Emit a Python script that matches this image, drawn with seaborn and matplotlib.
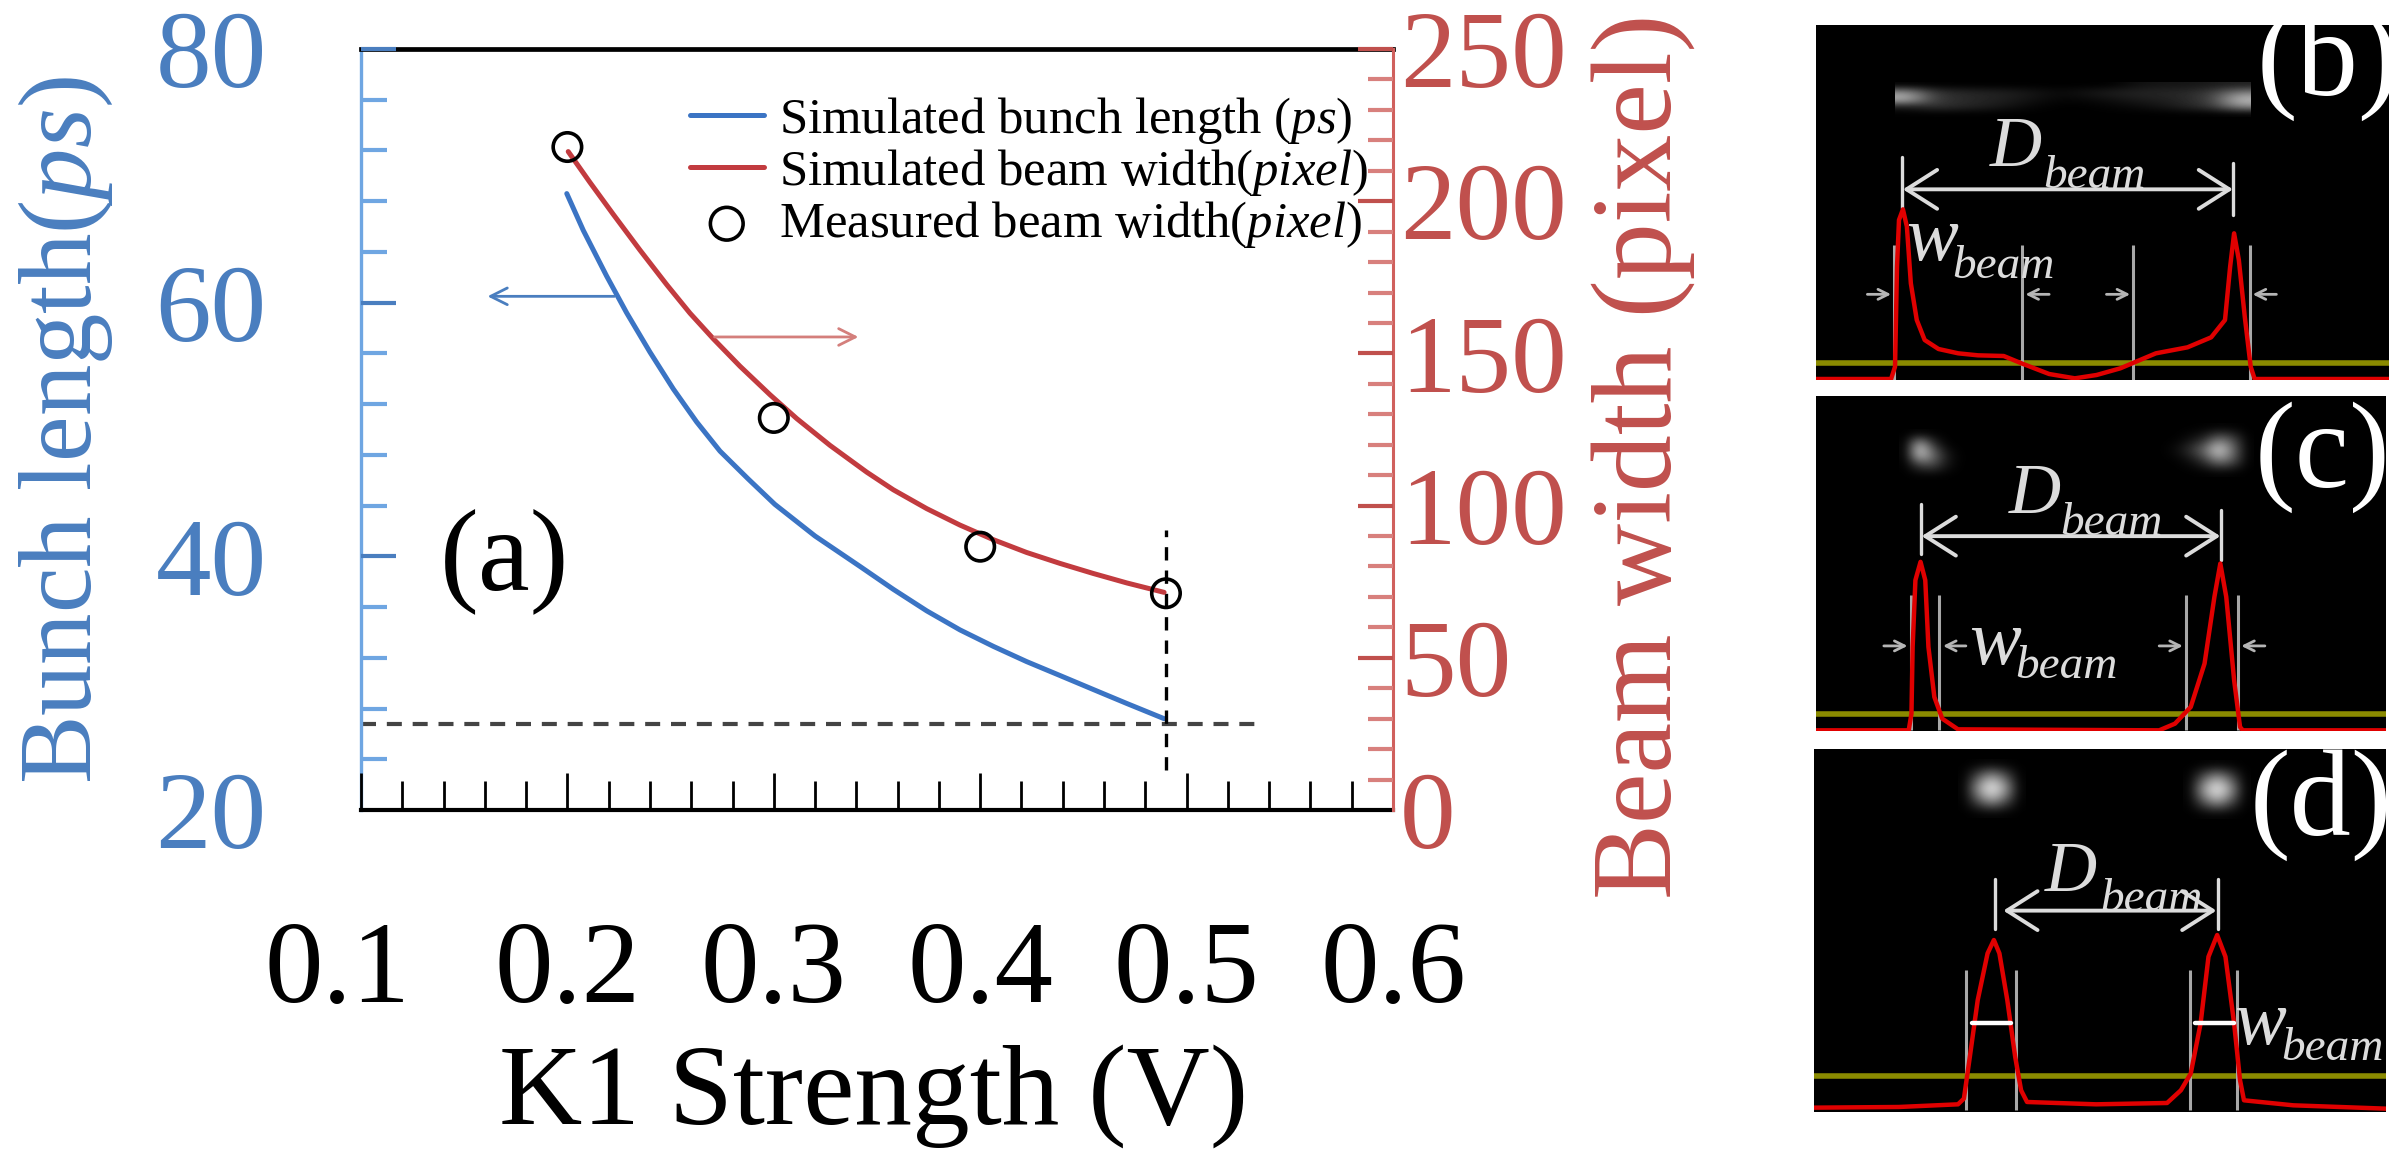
import numpy as np
import seaborn as sns
import matplotlib.pyplot as plt
from matplotlib.transforms import ScaledTranslation

sns.set_theme(style='white')
plt.rcParams['font.family'] = ['Liberation Serif', 'DejaVu Serif']
plt.rcParams['mathtext.fontset'] = 'custom'
plt.rcParams['mathtext.rm'] = 'Liberation Serif'
plt.rcParams['mathtext.it'] = 'Liberation Serif:italic'

# --- main chart values ---
bunch_x = [0.1997, 0.2077, 0.219, 0.2287, 0.240, 0.2513, 0.2626, 0.2739, 0.2876, 0.3005, 0.320, 0.3418, 0.3579,
           0.3741, 0.3902, 0.4064, 0.4225, 0.4387, 0.4548, 0.471, 0.4891]
bunch_len = [68.6, 65.7, 62.1, 59.2, 56.1, 53.2, 50.6, 48.3, 46.1, 44.1, 41.6, 39.2, 37.4,
             35.7, 34.2, 32.9, 31.7, 30.6, 29.5, 28.4, 27.2]
width_x = [0.2004, 0.2109, 0.2222, 0.2352, 0.2481, 0.2594, 0.2707, 0.2836, 0.2982, 0.3111, 0.3272, 0.3450, 0.3579,
           0.3741, 0.3902, 0.4064, 0.4225, 0.4387, 0.4548, 0.471, 0.4891]
width_sim = [216.3, 206.2, 195.7, 183.9, 172.6, 163.2, 154.8, 145.8, 136.4, 128.6, 119.8, 111.0, 105.2,
             99.0, 93.6, 88.8, 84.6, 81.0, 77.7, 74.6, 71.5]
meas_x = [0.2, 0.3, 0.4, 0.49]
meas_width = [217.8, 128.8, 86.5, 71.2]

x_ticks = [0.1, 0.2, 0.3, 0.4, 0.5, 0.6]
left_ticks = [20, 40, 60, 80]
right_ticks = [0, 50, 100, 150, 200, 250]

# --- panel values, in the panels' own pixel units ---
b_x = [90, 280, 290, 295, 300, 310, 320, 330, 345, 365, 400, 450, 500, 565, 610, 680, 745, 800, 860, 900, 950,
       1030, 1090, 1125, 1138, 1148, 1160, 1175, 1190, 1200, 1540]
b_y = [1137, 1137, 1100, 800, 660, 628, 680, 850, 960, 1020, 1047, 1060, 1066, 1068, 1090, 1122, 1135, 1125, 1105,
       1085, 1060, 1042, 1012, 960, 800, 700, 780, 950, 1100, 1137, 1137]
c_x = [90, 325, 332, 335, 342, 355, 367, 375, 390, 410, 450, 960, 1000, 1040, 1075, 1100, 1115, 1130, 1150, 1165,
       1172, 1535]
c_y = [1050, 1050, 1000, 800, 600, 545, 600, 800, 950, 1015, 1047, 1050, 1030, 980, 850, 650, 550, 650, 900, 1040,
       1050, 1050]
d_x = [85, 300, 450, 465, 480, 500, 525, 541, 555, 575, 595, 610, 625, 800, 980, 1015, 1040, 1065, 1085, 1107,
       1128, 1150, 1165, 1175, 1300, 1535]
d_y = [1102, 1100, 1092, 1075, 950, 780, 640, 600, 640, 780, 950, 1050, 1085, 1092, 1088, 1050, 1000, 850, 650,
       585, 650, 850, 1020, 1080, 1095, 1105]

b_spot = [[0, 0, 0, 0, 0, 0, 0, 0, 0, .06, .08, .08, .10, .12],
          [.60, .22, .16, .14, .12, .08, .04, .08, .12, .14, .15, .16, .24, .50],
          [.70, .24, .17, .14, .11, .06, .02, .03, .06, .10, .12, .16, .26, .75],
          [.10, .20, .16, .12, .07, .02, 0, 0, .02, .04, .08, .14, .22, .55],
          [0, 0, 0, 0, 0, 0, 0, 0, 0, 0, 0, 0, 0, 0]]
c_spot_l = [[0, 0, 0, 0, 0],
            [0, .75, .20, 0, 0],
            [0, .85, .45, .10, 0],
            [0, .25, .30, .08, 0],
            [0, 0, 0, 0, 0]]
c_spot_r = [[0, 0, 0, 0, 0, 0, 0],
            [0, 0, .05, .15, .45, .30, 0],
            [0, .05, .20, .45, .90, .45, 0],
            [0, 0, .05, .20, .50, .35, 0],
            [0, 0, 0, 0, 0, 0, 0]]
d_spot = [[0, 0, 0, 0, 0],
          [0, .35, .65, .35, 0],
          [0, .65, 1.0, .65, 0],
          [0, .35, .65, .35, 0],
          [0, 0, 0, 0, 0]]

BLUE = '#4a7ebf'
BLUE_LINE = '#3b74c4'
BLUE_SPINE = '#6fa6e2'
RED = '#c0504d'
RED_LINE = '#c23b3f'
LIGHT = '#dcdcdc'

fig = plt.figure(figsize=(24, 11.51), dpi=100)
ax = fig.add_axes([361 / 2400, 1 - 810 / 1151, 1032 / 2400, 761 / 1151])
ax2 = ax.twinx()

sns.lineplot(x=bunch_x, y=bunch_len, ax=ax, color=BLUE_LINE, lw=3.6, label='Simulated bunch length ($ps$)', legend=False)
sns.lineplot(x=width_x, y=width_sim, ax=ax2, color=RED_LINE, lw=3.6, label='Simulated beam width($pixel$)', legend=False)
sns.scatterplot(x=meas_x, y=meas_width, ax=ax2, s=420, facecolor='none', edgecolor='black', linewidth=2.6,
                label='Measured beam width($pixel$)', legend=False, zorder=4)

# dashed guides
ax.axhline(26.76, xmin=0, xmax=(0.534 - 0.1) / 0.5, color='#444444', lw=3, ls=(0, (3.6, 2.6)))
ax.plot([0.49, 0.49], [23.15, 42.1], color='black', lw=2.4, ls=(0, (4, 3)))

# direction arrows
ax.annotate('', xy=(0.1613, 60.5), xytext=(0.2228, 60.5),
            arrowprops=dict(arrowstyle='->', color=BLUE, lw=2, mutation_scale=30, shrinkA=0, shrinkB=0))
ax2.annotate('', xy=(0.341, 155.4), xytext=(0.2713, 155.4),
             arrowprops=dict(arrowstyle='->', color='#d47f7c', lw=2, mutation_scale=30, shrinkA=0, shrinkB=0))

ax.text(0.1698, 39.6, '(a)', fontsize=84, color='black', ha='center', va='center')

ax.set_xlim(0.1, 0.6)
ax.set_ylim(20, 80)
ax2.set_ylim(0, 250)

ax.set_xticks(x_ticks)
ax.set_xticks(np.arange(0.1, 0.6, 0.02), minor=True)
ax.set_xticklabels([f'{t:.1f}' for t in x_ticks])
ax.set_yticks(left_ticks)
ax.set_yticks(np.arange(20, 81, 4), minor=True)
ax2.set_yticks(right_ticks)
ax2.set_yticks(np.arange(0, 251, 10), minor=True)

ax.set_axisbelow(False)
ax2.set_axisbelow(False)
ax.tick_params(axis='x', which='major', direction='in', length=27, width=2, color='black', labelsize=84, pad=80,
               labelcolor='black', bottom=True)
ax.tick_params(axis='x', which='minor', direction='in', length=21, width=2, color='black', bottom=True)
ax.tick_params(axis='y', which='major', direction='in', length=25, width=3, color=BLUE, labelsize=80, pad=68,
               labelcolor=BLUE, left=True)
ax.tick_params(axis='y', which='minor', direction='in', length=19, width=3, color=BLUE_SPINE, left=True)
ax2.tick_params(axis='y', which='major', direction='in', length=25, width=3, color=RED, labelsize=80, pad=5,
                labelcolor=RED, right=True)
ax2.tick_params(axis='y', which='minor', direction='in', length=18, width=3, color='#d8807d', right=True)
ax.yaxis.get_major_ticks()[0].tick1line.set_visible(False)
ax2.yaxis.get_major_ticks()[0].tick2line.set_visible(False)

# the 0.1 label sits left of its tick in the original
first = ax.xaxis.get_major_ticks()[0].label1
first.set_transform(first.get_transform() + ScaledTranslation(-0.24, 0, fig.dpi_scale_trans))

for name in ['left', 'right', 'top', 'bottom']:
    ax2.spines[name].set_visible(False)
ax2.spines['right'].set_visible(True)
ax2.spines['right'].set_color('#d0605d')
ax2.spines['right'].set_linewidth(2.2)
ax.spines['left'].set_color(BLUE_SPINE)
ax.spines['left'].set_linewidth(2.4)
ax.spines['right'].set_visible(False)
ax.spines['top'].set_color('black')
ax.spines['top'].set_linewidth(3.4)
ax.spines['bottom'].set_color('black')
ax.spines['bottom'].set_linewidth(3)

fig.text(66 / 2400, 1 - 430 / 1151, 'Bunch length($ps$)', rotation=90, color=BLUE, fontsize=74,
         ha='center', va='center')
fig.text(1643 / 2400, 1 - 456 / 1151, 'Beam width (pixel)', rotation=90, color=RED, fontsize=82,
         ha='center', va='center')
fig.text(874 / 2400, 1 - 1096 / 1151, 'K1 Strength (V)', color='black', fontsize=83, ha='center', va='center')

h1, l1 = ax.get_legend_handles_labels()
h2, l2 = ax2.get_legend_handles_labels()
ax2.legend(h1 + h2, l1 + l2, loc='upper left', bbox_to_anchor=(690 / 2400, 1 - 95 / 1151),
           bbox_transform=fig.transFigure, frameon=False, fontsize=36.5, handlelength=1.45, handletextpad=0.3,
           labelspacing=0.02, borderpad=0, borderaxespad=0, labelcolor='black', markerscale=1.15)


# --- right hand panels ---
def panel(box, xlim, ylim, px, py, yellow, grey, grey_top, grey_bot, ticks, arrow_y, arrow_x, d_pos, beam_pos,
          w_pos, wbeam_pos, tag, tag_pos):
    a = fig.add_axes([box[0] / 2400, 1 - box[3] / 1151, (box[1] - box[0]) / 2400, (box[3] - box[2]) / 1151],
                     facecolor='black')
    a.axhline(yellow, color='#8a8a00', lw=4, zorder=1)
    a.vlines(grey, grey_top, grey_bot, color='#a8a8a8', lw=2.2, zorder=2)
    sns.lineplot(x=px, y=py, ax=a, color='#e00000', lw=3.2, legend=False, estimator=None, zorder=3)
    for tx, t0, t1 in ticks:
        a.plot([tx, tx], [t0, t1], color=LIGHT, lw=2.4, zorder=2)
    a.annotate('', xy=(arrow_x[0], arrow_y), xytext=(arrow_x[1], arrow_y),
               arrowprops=dict(arrowstyle='<->,head_length=1.1,head_width=0.7', color=LIGHT, lw=2.8,
                               mutation_scale=20, shrinkA=0, shrinkB=0))
    a.text(*d_pos, 'D', color=LIGHT, fontsize=52, style='italic', ha='center', va='center')
    a.text(*beam_pos, 'beam', color=LIGHT, fontsize=34, style='italic', ha='center', va='center')
    a.text(*w_pos, 'w', color=LIGHT, fontsize=56, style='italic', ha='center', va='center')
    a.text(*wbeam_pos, 'beam', color=LIGHT, fontsize=34, style='italic', ha='center', va='center')
    a.text(*tag_pos, tag, color='white', fontsize=88, ha='center', va='center', clip_on=True)
    a.set_xlim(*xlim)
    a.set_ylim(*ylim)
    a.set_xticks([])
    a.set_yticks([])
    for s in a.spines.values():
        s.set_visible(False)
    return a


def spot(a, img, extent):
    xl, yl = a.get_xlim(), a.get_ylim()
    a.imshow(img, extent=extent, cmap='gray', vmin=0, vmax=1, interpolation='bicubic', aspect='auto', zorder=0)
    a.set_xlim(xl)
    a.set_ylim(yl)


def small_arrows(a, y, pairs):
    for x0, x1 in pairs:
        a.annotate('', xy=(x1, y), xytext=(x0, y),
                   arrowprops=dict(arrowstyle='->', color='#b5b5b5', lw=2, mutation_scale=18, shrinkA=0, shrinkB=0))


pb = panel([1816, 2389, 25, 380], (90, 1540), (1140, 75), b_x, b_y, 1088, [288, 612, 892, 1188], 735, 1140,
           [(307, 470, 625), (1145, 490, 645)], 568, (310, 1145), (595, 445), (795, 530), (385, 725), (565, 800),
           '(b)', (1385, 195))
spot(pb, b_spot, (290, 1190, 350, 245))
small_arrows(pb, 883, [(220, 280), (680, 620), (825, 885), (1255, 1195)])

pc = panel([1816, 2386, 396, 731], (90, 1535), (1052, 48), c_x, c_y, 1000, [332, 402, 1028, 1160], 645, 1050,
           [(356, 372, 522), (1117, 390, 540)], 468, (358, 1115), (645, 345), (840, 430), (545, 795), (725, 860),
           '(c)', (1375, 230))
spot(pc, c_spot_l, (300, 470, 300, 150))
spot(pc, c_spot_r, (950, 1200, 290, 130))
small_arrows(pc, 797, [(262, 322), (470, 412), (960, 1020), (1228, 1168)])

pd_ = panel([1814, 2386, 749, 1112], (85, 1535), (1115, 28), d_x, d_y, 1008, [470, 597, 1037, 1158], 690, 1110,
            [(543, 418, 568), (1108, 418, 568)], 512, (565, 1105), (735, 400), (940, 480), (1215, 855), (1400, 925),
            '(d)', (1370, 195))
spot(pd_, d_spot, (450, 620, 235, 60))
spot(pd_, d_spot, (1020, 1190, 238, 62))
pd_.plot([485, 585], [847, 847], color='white', lw=3.2, zorder=4)
pd_.plot([1050, 1150], [847, 847], color='white', lw=3.2, zorder=4)

fig.savefig('out.png', dpi=100)
